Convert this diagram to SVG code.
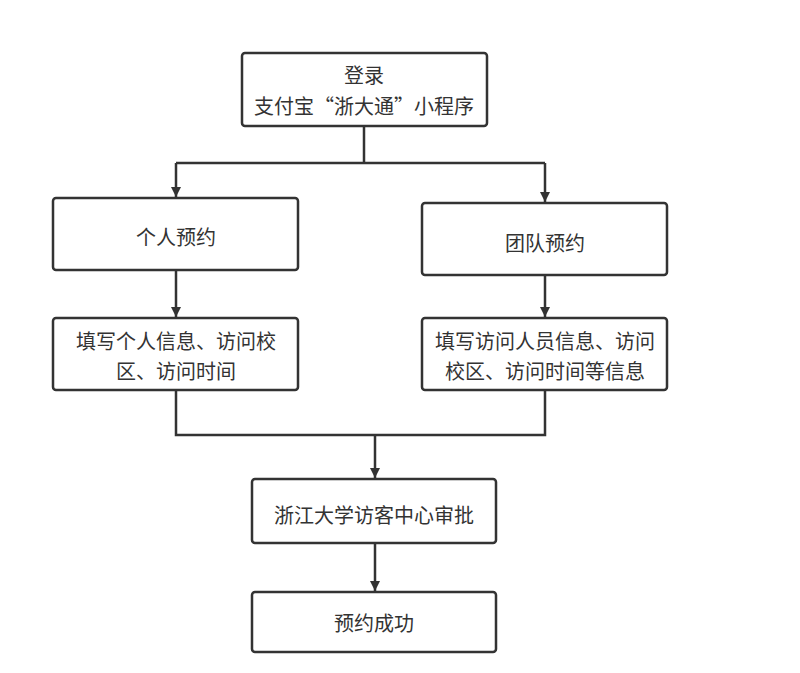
<svg xmlns="http://www.w3.org/2000/svg" width="800" height="673" viewBox="0 0 800 673">
<defs>
<style>
.box{fill:#fff;stroke:#333;stroke-width:2.5}
.t{font-family:"Noto Sans CJK SC","Liberation Sans",sans-serif;font-size:20px;fill:#333;text-anchor:middle;dominant-baseline:central}
.ln{fill:none;stroke:#333;stroke-width:2.5}
</style>
<marker id="ah" viewBox="0 0 10 10" refX="10" refY="5" markerWidth="10" markerHeight="10" markerUnits="userSpaceOnUse" orient="auto">
<path d="M0,0 L10,5 L0,10 z" fill="#333"/>
</marker>
</defs>
<rect width="800" height="673" fill="#fff"/>
<g id="connectors">
<path class="ln" d="M364,126 V163"/>
<path class="ln" d="M176,163 H545"/>
<path class="ln" d="M176,163 V197" marker-end="url(#ah)"/>
<path class="ln" d="M545,163 V202" marker-end="url(#ah)"/>
<path class="ln" d="M176,270 V317" marker-end="url(#ah)"/>
<path class="ln" d="M545,275 V317" marker-end="url(#ah)"/>
<path class="ln" d="M176,390 V435 H545 V390"/>
<path class="ln" d="M375,435 V478" marker-end="url(#ah)"/>
<path class="ln" d="M375,543 V591" marker-end="url(#ah)"/>
</g>
<g id="login">
<rect class="box" x="242" y="53" width="245" height="73" rx="3"/>
<text class="t" x="364" y="74">登录</text>
<text class="t" x="364" y="105">支付宝“浙大通”小程序</text>
</g>
<g id="personal">
<rect class="box" x="53" y="198" width="245" height="72" rx="3"/>
<text class="t" x="176" y="236">个人预约</text>
</g>
<g id="group">
<rect class="box" x="422" y="203" width="245" height="72" rx="3"/>
<text class="t" x="545" y="242">团队预约</text>
</g>
<g id="personal-info">
<rect class="box" x="53" y="318" width="245" height="72" rx="3"/>
<text class="t" x="176" y="340">填写个人信息、访问校</text>
<text class="t" x="176" y="370">区、访问时间</text>
</g>
<g id="group-info">
<rect class="box" x="422" y="318" width="245" height="72" rx="3"/>
<text class="t" x="545" y="340">填写访问人员信息、访问</text>
<text class="t" x="545" y="370">校区、访问时间等信息</text>
</g>
<g id="approval">
<rect class="box" x="252" y="479" width="244" height="64" rx="3"/>
<text class="t" x="374" y="514">浙江大学访客中心审批</text>
</g>
<g id="success">
<rect class="box" x="252" y="592" width="244" height="60" rx="3"/>
<text class="t" x="374" y="622">预约成功</text>
</g>
</svg>
